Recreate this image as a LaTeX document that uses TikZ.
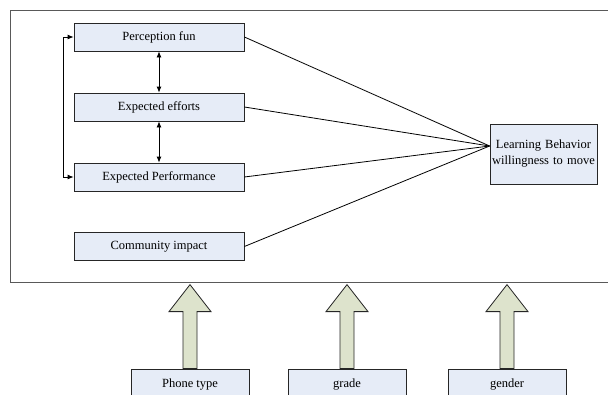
\documentclass[tikz,border=0pt]{standalone}
\usepackage{fontspec}
\setmainfont{Liberation Serif}
\usetikzlibrary{arrows.meta}
\definecolor{boxblue}{RGB}{230,236,247}
\definecolor{arrowgreen}{RGB}{221,227,204}

\begin{document}
\begin{tikzpicture}[
                            x=1pt, y=-1pt,
                            >={Latex[length=6pt,width=5pt]},
                            font=\fontsize{12.5}{16}\selectfont,
                            line width=0.8pt
                        ]
                        \tikzstyle{factor}=[draw=black!85,fill=boxblue,minimum width=170pt,minimum height=28pt,inner sep=0pt]
                        \tikzstyle{target}=[draw=black!85,fill=boxblue,minimum width=107pt,minimum height=60pt,text width=104pt,align=center,inner sep=0pt]
                        \tikzstyle{control}=[draw=black!85,fill=boxblue,minimum width=118pt,minimum height=32pt,inner sep=0pt]
                        \tikzstyle{bigarrow}=[draw=black!85,fill=arrowgreen]

                        \clip (0,0) rectangle (608,394);
                        \draw[black!65,line width=1pt] (10,10) rectangle (620,282);

                        \node[factor] (pf) at (159,37) {Perception fun};
                        \node[factor] (ee) at (159,107) {Expected efforts};
                        \node[factor] (ep) at (159,177) {Expected Performance};
                        \node[factor] (ci) at (159,246.5) {Community impact};
                        \node[target] (lbw) at (543.5,154) {Learning Behavior\\willingness to move};
                        \coordinate (hub) at ([yshift=8pt]lbw.west);

                        \node[control] (ptype) at (190,385) {Phone type};
                        \node[control] (grade) at (347,385) {grade};
                        \node[control] (gender) at (507,385) {gender};

                        \path[-]
                        (pf.east) edge (hub)
                        (ee.east) edge (hub)
                        (ep.east) edge (hub)
                        (ci.east) edge (hub)
                        ;
                        \draw[<->] (pf) -- (ee);
                        \draw[<->] (ee) -- (ep);
                        \draw[<->] (pf.west) -- ++(-10,0) |- (ep.west);

                        \foreach \n in {ptype,grade,gender}
                            \draw[bigarrow] (\n.north) ++(-7,0) -- ++(0,-57) -- ++(-14,0) -- ++(21,-27)
                                -- ++(21,27) -- ++(-14,0) -- ++(0,57) -- cycle;
                    \end{tikzpicture}
\end{document}
